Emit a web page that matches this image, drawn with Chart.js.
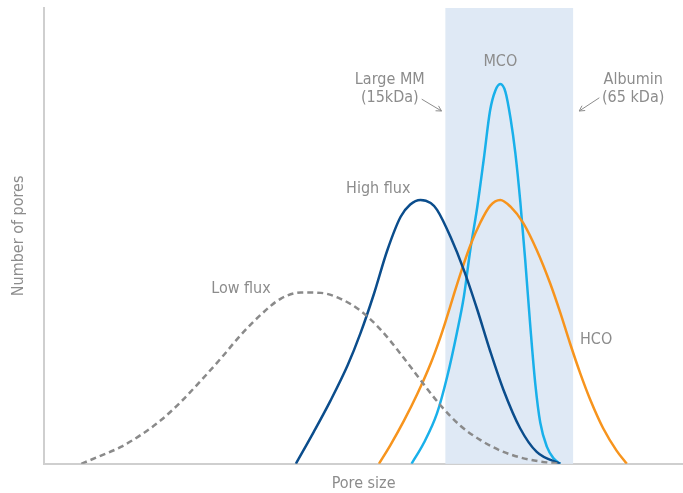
<!DOCTYPE html>
<html>
<head>
<meta charset="utf-8">
<script src="https://cdn.jsdelivr.net/npm/chart.js@4.4.1/dist/chart.umd.min.js"></script>
<style>
  html, body { margin: 0; padding: 0; background: #fff; }
  #wrap { width: 683px; height: 493px; }
</style>
</head>
<body>
<div id="wrap"><canvas id="poreChart"></canvas></div>
<script>
// pore size (arbitrary units, 0-100) and number of pores (arbitrary units, 0-100)
const lowFluxX  = [5.8, 8.9, 12.0, 15.2, 18.3, 21.4, 24.5, 27.7, 30.8, 33.9, 37.0, 40.2, 43.3, 46.4, 49.5, 52.7, 55.8, 58.9, 62.0, 65.2, 68.3, 71.4, 74.5, 77.7, 80.8];
const lowFluxY  = [0,   1.8, 3.7,  6.4,  9.6,  13.6, 18.2, 23.2, 28.3, 32.7, 36.2, 37.6, 37.5, 36.2, 33.6, 29.4, 24.1, 18.4, 12.9, 8.3,  5.2,  2.9,  1.4,  0.5,  0];

const highFluxX = [39.4, 42.2, 44.8, 47.5, 49.5, 51.6, 53.7, 55.8, 57.3, 58.9, 60.5, 61.5, 63.6, 65.7, 67.8, 69.8, 71.9, 74.5, 77.1, 80.8];
const highFluxY = [0,    7.0,  13.8, 21.6, 28.6, 37.2, 46.8, 54.2, 56.9, 57.9, 57.2, 55.7, 49.8, 42.5, 33.8, 24.8, 16.2, 7.8,  2.6,  0];

const hcoX = [52.4, 54.2, 56.3, 58.4, 60.5, 62.0, 62.8, 64.1, 65.4, 66.7, 68.3, 69.8, 71.4, 73.0, 75.0, 77.1, 79.2, 80.8, 82.3, 83.9, 85.5, 87.5, 89.6, 91.2];
const hcoY = [0,    4.1,  9.4,  15.3, 22.0, 27.7, 31.1, 37.0, 42.7, 47.9, 53.0, 56.6, 57.9, 56.4, 52.8, 46.9, 39.6, 33.1, 26.5, 19.9, 14.0, 7.8,  2.9,  0];

const mcoX = [57.5, 59.4, 61.5, 63.1, 64.6, 65.7, 66.7, 67.8, 68.8, 69.8, 70.6, 71.4, 72.2, 73.0, 73.75, 74.53, 75.31, 76.09, 76.88, 77.66, 78.7, 79.73, 80.78];
const mcoY = [0,    4.5,  11.1, 19.2, 28.7, 36.7, 46.9, 56.4, 66.7, 77.5, 81.8, 83.3, 81.6, 75.8, 68.2,  57.5,  44.5,  30.3,  17.5,  9.0,   3.7,  1.2,   0];

// shaded range between Large MM (15 kDa) and albumin (65 kDa)
const bandRange = [62.8, 82.8];

const pts = (xs, ys) => xs.map((x, i) => ({ x: x, y: ys[i] }));

const FONT = "'Liberation Sans Narrow', 'DejaVu Sans Condensed', 'Roboto', sans-serif";
const GREY_TEXT = '#8c8c8c';

// text notes placed in data units
const notes = [
  { text: 'MCO', x: 71.4, y: 88.2 },
  { text: 'Large MM', x: 54.1, y: 84.2 },
  { text: '(15kDa)', x: 54.1, y: 80.3 },
  { text: 'Albumin', x: 92.2, y: 84.2 },
  { text: '(65 kDa)', x: 92.2, y: 80.3 },
  { text: 'High flux', x: 52.3, y: 60.3 },
  { text: 'Low flux', x: 30.8, y: 38.4 },
  { text: 'HCO', x: 86.4, y: 27.2 }
];
const arrows = [
  { from: [59.1, 80.0], to: [62.2, 77.4] },
  { from: [86.9, 80.3], to: [83.75, 77.4] }
];

const bandPlugin = {
  id: 'band',
  beforeDatasetsDraw(chart) {
    const { ctx, chartArea, scales: { x } } = chart;
    const x0 = x.getPixelForValue(bandRange[0]);
    const x1 = x.getPixelForValue(bandRange[1]);
    ctx.save();
    ctx.fillStyle = '#dfe9f5';
    ctx.fillRect(x0, chartArea.top, x1 - x0, chartArea.bottom - chartArea.top);
    ctx.restore();
  }
};

const notesPlugin = {
  id: 'notes',
  afterDatasetsDraw(chart) {
    const { ctx, scales: { x, y } } = chart;
    ctx.save();
    ctx.fillStyle = GREY_TEXT;
    ctx.font = '16px ' + FONT;
    ctx.textAlign = 'center';
    ctx.textBaseline = 'middle';
    notes.forEach(n => ctx.fillText(n.text, x.getPixelForValue(n.x), y.getPixelForValue(n.y)));

    ctx.strokeStyle = '#8c8c8c';
    ctx.lineWidth = 1;
    arrows.forEach(a => {
      const sx = x.getPixelForValue(a.from[0]), sy = y.getPixelForValue(a.from[1]);
      const ex = x.getPixelForValue(a.to[0]), ey = y.getPixelForValue(a.to[1]);
      const ang = Math.atan2(ey - sy, ex - sx);
      ctx.beginPath();
      ctx.moveTo(sx, sy);
      ctx.lineTo(ex, ey);
      ctx.moveTo(ex - 6 * Math.cos(ang - 0.5), ey - 6 * Math.sin(ang - 0.5));
      ctx.lineTo(ex, ey);
      ctx.lineTo(ex - 6 * Math.cos(ang + 0.5), ey - 6 * Math.sin(ang + 0.5));
      ctx.stroke();
    });
    ctx.restore();
  }
};

const lineOpts = (label, data, color, dash) => ({
  label: label,
  data: data,
  borderColor: color,
  borderWidth: 2.5,
  borderDash: dash || [],
  pointRadius: 0,
  fill: false,
  cubicInterpolationMode: 'monotone'
});

new Chart(document.getElementById('poreChart'), {
  type: 'line',
  data: {
    datasets: [
      lineOpts('Low flux', pts(lowFluxX, lowFluxY), '#8a8a8a', [6, 4]),
      lineOpts('High flux', pts(highFluxX, highFluxY), '#0b4d8c'),
      lineOpts('HCO', pts(hcoX, hcoY), '#f7941d'),
      lineOpts('MCO', pts(mcoX, mcoY), '#19b0ea')
    ]
  },
  options: {
    responsive: true,
    maintainAspectRatio: false,
    animation: false,
    layout: { padding: { top: 8, right: 0, bottom: 0, left: 0 } },
    plugins: {
      legend: { display: false },
      tooltip: { enabled: false }
    },
    scales: {
      x: {
        type: 'linear',
        min: 0,
        max: 100,
        grid: { display: false, drawTicks: false },
        border: { display: true, color: '#cfcfcf', width: 2 },
        ticks: { display: false },
        title: {
          display: true,
          text: 'Pore size',
          color: GREY_TEXT,
          font: { family: FONT, size: 16 },
          padding: { top: 10, bottom: 0 }
        }
      },
      y: {
        min: 0,
        max: 100,
        grid: { display: false, drawTicks: false },
        border: { display: true, color: '#cfcfcf', width: 2 },
        ticks: { display: false },
        title: {
          display: true,
          text: 'Number of pores',
          color: GREY_TEXT,
          font: { family: FONT, size: 16 },
          padding: { top: 9, bottom: 16 }
        }
      }
    }
  },
  plugins: [bandPlugin, notesPlugin]
});
</script>
</body>
</html>
